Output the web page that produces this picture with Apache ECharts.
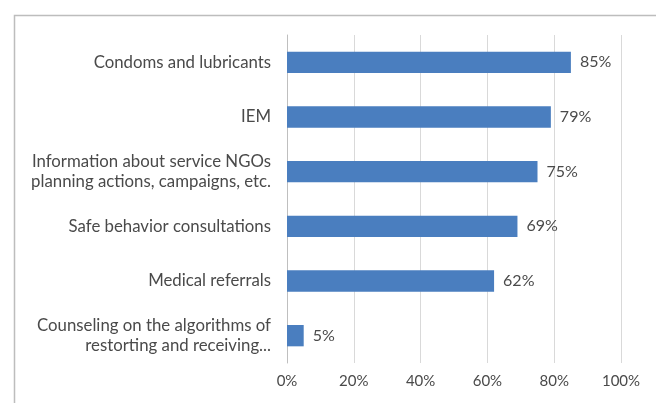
<!DOCTYPE html>
<html>
<head>
<meta charset="utf-8">
<script src="https://cdn.jsdelivr.net/npm/echarts@6/dist/echarts.min.js"></script>
<style>
  html, body { margin: 0; padding: 0; background: #fff; }
  #chart { width: 656px; height: 403px; }
</style>
</head>
<body>
<div id="chart"></div>
<script>
const categories = [
  "Condoms and lubricants",
  "IEM",
  "Information about service NGOs\nplanning actions, campaigns, etc.",
  "Safe behavior consultations",
  "Medical referrals",
  "Counseling on the algorithms of\nrestorting and receiving..."
];
const values = [85, 79, 75, 69, 62, 5];
const xTicks = [0, 20, 40, 60, 80, 100];

const chart = echarts.init(document.getElementById("chart"));

const textColor = "#4a4a4a";
const font = "Lato";

const option = {
  animation: false,
  backgroundColor: "#fff",
  // chart border, like the Excel chart area
  graphic: [{
    type: "rect",
    shape: { x: 14.5, y: 15.5, width: 700, height: 420 },
    style: { fill: "none", stroke: "#bdbdbd", lineWidth: 1.5 },
    silent: true
  }],
  grid: {
    left: 287,
    right: 35,
    top: 35,
    bottom: 40
  },
  xAxis: {
    type: "value",
    min: xTicks[0],
    max: xTicks[xTicks.length - 1],
    interval: 20,
    axisLine: { show: false },
    axisTick: { show: false },
    splitLine: { lineStyle: { color: "#d9d9d9", width: 1 } },
    axisLabel: {
      color: textColor,
      fontFamily: font,
      fontSize: 15,
      margin: 11,
      formatter: v => v + "%"
    }
  },
  yAxis: {
    type: "category",
    inverse: true,
    data: categories,
    axisLine: { lineStyle: { color: "#bfbfbf", width: 1 } },
    axisTick: { length: 4, lineStyle: { color: "#bfbfbf" } },
    axisLabel: {
      color: textColor,
      fontFamily: font,
      fontSize: 16.8,
      lineHeight: 20,
      margin: 16,
      align: "right"
    }
  },
  series: [{
    type: "bar",
    data: values,
    barWidth: "39%",
    itemStyle: { color: "#4a7ebf" },
    label: {
      show: true,
      position: "right",
      distance: 9,
      color: textColor,
      fontFamily: font,
      fontSize: 16,
      formatter: p => p.value + "%"
    }
  }]
};

chart.setOption(option);
</script>
</body>
</html>
